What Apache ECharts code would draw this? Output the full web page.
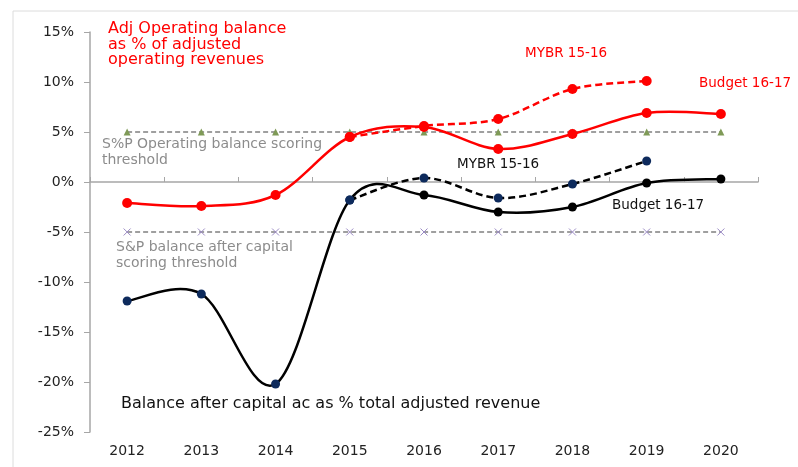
<!DOCTYPE html>
<html>
<head>
<meta charset="utf-8">
<script src="https://cdn.jsdelivr.net/npm/echarts@6/dist/echarts.min.js"></script>
<style>
  html, body { margin: 0; padding: 0; background: #fff; }
  #chart { width: 798px; height: 467px; }
</style>
</head>
<body>
<div id="chart"></div>
<script>
// categories
const years = ["2012", "2013", "2014", "2015", "2016", "2017", "2018", "2019", "2020"]

// adj operating balance (% of adjusted operating revenues)
const opBudget = [-2.1, -2.4, -1.3, 4.5, 5.5, 3.3, 4.8, 6.9, 6.8]
const opMybr = [null, null, null, 4.5, 5.6, 6.3, 9.3, 10.1, null]

// balance after capital (% total adjusted revenue)
const capBudget = [-11.9, -11.2, -20.2, -1.8, -1.3, -3.0, -2.5, -0.1, 0.3]
const capMybr = [null, null, null, -1.8, 0.4, -1.6, -0.2, 2.1, null]

// S&P thresholds
const opThreshold = [5, 5, 5, 5, 5, 5, 5, 5, 5]
const capThreshold = [-5, -5, -5, -5, -5, -5, -5, -5, -5]

const FONT = "DejaVu Sans"
const NAVY = "#0d2a5c"

const chart = echarts.init(document.getElementById("chart"))

// excel-like smoothed line (catmull-rom through the points), drawn with the axis scales
const smoothLine = (values, color, dash) => ({
  type: "custom",
  data: values.map((v, i) => [i, v]).filter((d) => d[1] != null),
  silent: true,
  z: 2,
  renderItem: (params, api) => {
    if (params.dataIndex !== 0) return null
    const pts = values
      .map((v, i) => (v == null ? null : api.coord([i, v])))
      .filter(Boolean)
    let d = "M" + pts[0][0] + "," + pts[0][1]
    for (let i = 0; i < pts.length - 1; i++) {
      const p0 = pts[i - 1] || pts[i]
      const p1 = pts[i]
      const p2 = pts[i + 1]
      const p3 = pts[i + 2] || pts[i + 1]
      const c1x = p1[0] + (p2[0] - p0[0]) / 6
      const c1y = p1[1] + (p2[1] - p0[1]) / 6
      const c2x = p2[0] - (p3[0] - p1[0]) / 6
      const c2y = p2[1] - (p3[1] - p1[1]) / 6
      d += " C" + c1x + "," + c1y + " " + c2x + "," + c2y + " " + p2[0] + "," + p2[1]
    }
    return {
      type: "path",
      shape: { pathData: d },
      style: { fill: "none", stroke: color, lineWidth: 2.5, lineDash: dash || null },
    }
  },
})

// markers only, the curve is drawn by smoothLine
const dots = (data, color, size) => ({
  type: "line",
  data: data,
  symbol: "circle",
  symbolSize: size,
  itemStyle: { color: color },
  lineStyle: { opacity: 0 },
  z: 5,
})

// first 4 markers of the capital series are navy, rest black
const capBudgetData = capBudget.map((v, i) => ({
  value: v,
  itemStyle: { color: i < 4 ? NAVY : "#000" },
}))

const txt = (left, top, lines, color, size, lh) => ({
  type: "text",
  left: left,
  top: top,
  style: {
    text: lines,
    fill: color,
    font: size + "px '" + FONT + "'",
    lineHeight: lh || size + 2,
  },
})

const option = {
  animation: false,
  grid: { left: 90, right: 40, top: 32, bottom: 35 },
  xAxis: [
    {
      type: "category",
      data: years,
      position: "bottom",
      axisLine: { show: false, onZero: false },
      axisTick: { show: false },
      axisLabel: { color: "#222", fontFamily: FONT, fontSize: 14, margin: 12 },
    },
    {
      type: "category",
      data: years,
      axisLine: { onZero: true, lineStyle: { color: "#a6a6a6", width: 1.5 } },
      axisTick: { show: true, length: 5, lineStyle: { color: "#a6a6a6" } },
      axisLabel: { show: false },
    },
  ],
  yAxis: {
    type: "value",
    min: -25,
    max: 15,
    interval: 5,
    axisLine: { show: true, lineStyle: { color: "#a6a6a6", width: 1.5 } },
    axisTick: { show: true, length: 6, lineStyle: { color: "#a6a6a6" } },
    splitLine: { show: false },
    axisLabel: {
      formatter: "{value}%",
      color: "#222",
      fontFamily: FONT,
      fontSize: 14,
      margin: 16,
    },
  },
  series: [
    {
      type: "line",
      data: opThreshold,
      symbol: "triangle",
      symbolSize: 7,
      itemStyle: { color: "#7f9a57" },
      lineStyle: { color: "#808080", type: [5, 3], width: 1.5 },
      z: 1,
    },
    {
      type: "line",
      data: capThreshold,
      symbol: "path://M0,0L10,10M10,0L0,10",
      symbolSize: 7,
      itemStyle: { color: "#9b8bc4", borderColor: "#9b8bc4", borderWidth: 1 },
      lineStyle: { color: "#808080", type: [5, 3], width: 1.5 },
      z: 1,
    },
    smoothLine(opMybr, "#ff0000", [7, 4]),
    smoothLine(opBudget, "#ff0000"),
    smoothLine(capMybr, "#000", [7, 4]),
    smoothLine(capBudget, "#000"),
    dots(opMybr, "#ff0000", 10),
    dots(opBudget, "#ff0000", 10),
    dots(capMybr, NAVY, 9),
    dots(capBudgetData, "#000", 9),
  ],
  graphic: [
    {
      type: "rect",
      shape: { x: 13, y: 11, width: 800, height: 470 },
      style: { fill: "none", stroke: "#dcdcdc", lineWidth: 1 },
      silent: true,
    },
    txt(108, 21, "Adj Operating balance\nas % of adjusted\noperating revenues", "#ff0000", 16, 15.5),
    txt(525, 46, "MYBR 15-16", "#ff0000", 13.5),
    txt(699, 76, "Budget 16-17", "#ff0000", 13.5),
    txt(102, 136, "S%P Operating balance scoring\nthreshold", "#8c8c8c", 14, 16),
    txt(457, 157, "MYBR 15-16", "#111", 13.5),
    txt(612, 198, "Budget 16-17", "#111", 13.5),
    txt(116, 239, "S&P balance after capital\nscoring threshold", "#8c8c8c", 14, 16),
    txt(121, 395, "Balance after capital ac as % total adjusted revenue", "#111", 16),
  ],
}

chart.setOption(option)
</script>
</body>
</html>
